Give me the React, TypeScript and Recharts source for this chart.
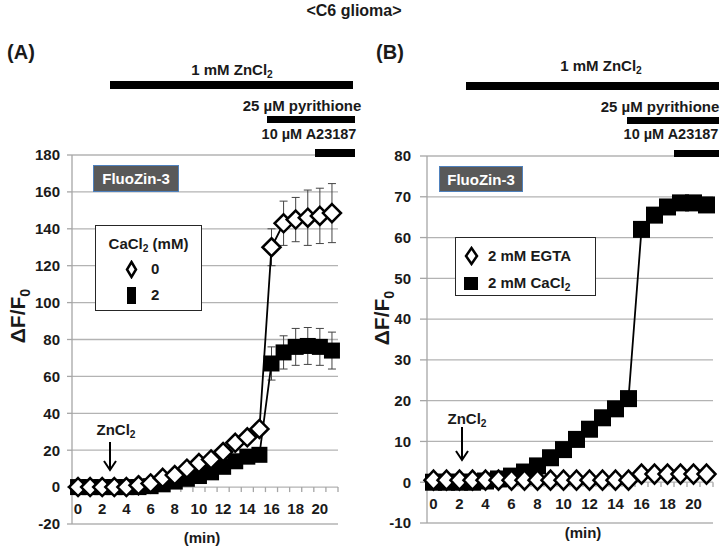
import React from 'react';
import {
  LineChart,
  Line,
  XAxis,
  YAxis,
  CartesianGrid,
  ErrorBar,
  ReferenceLine,
  Legend,
} from 'recharts';

// time points (min)
const minutes = [0, 1, 2, 3, 4, 5, 6, 7, 8, 9, 10, 11, 12, 13, 14, 15, 16, 17, 18, 19, 20, 21];
const minuteTicks = [0, 2, 4, 6, 8, 10, 12, 14, 16, 18, 20];

// panel A: CaCl2 0 mM / 2 mM
const aCa0 = [0, 0, 0, 0, 0, 1, 2, 5, 6.5, 10, 13, 15, 19, 24, 27, 31.5, 130, 143, 145, 146, 147, 148.5];
const aCa0Err = [0, 0, 0, 0, 0, 0, 0, 0, 0, 0, 0, 0, 0, 0, 0, 0, 10, 12, 12, 15, 15, 16];
const aCa2 = [0, 0, 0, 0, 0, 0, 0.5, 1.5, 3, 4.5, 6, 8, 11, 14, 16.5, 17.5, 67, 73, 76, 76.5, 76, 74];
const aCa2Err = [0, 0, 0, 0, 0, 0, 0, 0, 0, 0, 0, 0, 0, 0, 0, 0, 9, 9, 10, 10, 10, 10];
const aTicks = [-20, 0, 20, 40, 60, 80, 100, 120, 140, 160, 180];

// panel B: 2 mM EGTA / 2 mM CaCl2
const bEgta = [0.5, 0.5, 0.5, 0.5, 0.5, 0.5, 0.5, 0.5, 0.5, 0.5, 0.5, 0.5, 0.5, 0.5, 0.5, 0.5, 2, 2, 2, 2, 2, 2];
const bCaCl2 = [0, 0, 0, 0, 0.3, 0.8, 1.5, 2.5, 4, 6, 8, 10.5, 13, 15.8, 18, 20.5, 62, 65.5, 67.5, 68.5, 68.5, 68];
const bTicks = [-10, 0, 10, 20, 30, 40, 50, 60, 70, 80];

const dataA = minutes.map((t, i) => ({ t, ca0: aCa0[i], ca0Err: aCa0Err[i], ca2: aCa2[i], ca2Err: aCa2Err[i] }));
const dataB = minutes.map((t, i) => ({ t, egta: bEgta[i], cacl2: bCaCl2[i] }));
const boundaries = [...minutes.map(m => m - 0.5), minutes[minutes.length - 1] + 0.5];

const FONT = '"Liberation Sans", Arial, sans-serif';
const INK = '#1a1a1a';
const GRID = '#b3b3b3';
const FS = 15;

const Sub = ({ children }: { children: React.ReactNode }) => (
  <span style={{ fontSize: '0.68em', position: 'relative', top: '0.32em' }}>{children}</span>
);

const diamondDot = (w: number, h: number) => (p: any) => {
  const { cx, cy, index } = p;
  if (cx == null || cy == null) return <g key={`dd-${index}`} />;
  return (
    <polygon
      key={`dd-${index}`}
      points={`${cx},${cy - h / 2} ${cx + w / 2},${cy} ${cx},${cy + h / 2} ${cx - w / 2},${cy}`}
      fill="#fff"
      stroke="#000"
      strokeWidth={2.5}
    />
  );
};

const squareDot = (s: number) => (p: any) => {
  const { cx, cy, index } = p;
  if (cx == null || cy == null) return <g key={`sq-${index}`} />;
  return <rect key={`sq-${index}`} x={cx - s / 2} y={cy - s / 2} width={s} height={s} fill="#000" />;
};

const minuteTick = (shift: number) => (p: any) => (
  <text
    key={`xt-${p.payload.value}`}
    x={p.x}
    y={p.y + shift}
    textAnchor="middle"
    fill={INK}
    fontSize={FS}
    fontWeight={700}
    fontFamily={FONT}
  >
    {p.payload.value}
  </text>
);

const LegendMarker = ({ kind, w, h }: { kind: string; w: number; h: number }) => (
  <svg width={w + 4} height={h + 4} style={{ position: 'absolute', left: -(w + 4) / 2, top: -(h + 4) / 2 }}>
    {kind === 'diamond' ? (
      <polygon
        points={`${(w + 4) / 2},2 ${w + 2},${(h + 4) / 2} ${(w + 4) / 2},${h + 2} 2,${(h + 4) / 2}`}
        fill="#fff"
        stroke="#000"
        strokeWidth={2.5}
      />
    ) : (
      <rect x={2} y={2} width={w} height={h} fill="#000" />
    )}
  </svg>
);

const legendOrderA = ['ca0', 'ca2'];
const LegendA = ({ payload }: any) => {
  const items = legendOrderA.map(k => (payload || []).find((e: any) => e.dataKey === k)).filter(Boolean);
  return (
    <div style={{ position: 'relative', width: 107, height: 86, border: '1px solid #262626', background: '#fff', boxSizing: 'border-box', fontFamily: FONT, fontWeight: 700, fontSize: FS, color: INK }}>
      <div style={{ position: 'absolute', left: 0, right: 0, top: 9, textAlign: 'center', whiteSpace: 'nowrap' }}>
        CaCl<Sub>2</Sub> (mM)
      </div>
      {items.map((e: any, i: number) => (
        <div key={e.dataKey} style={{ position: 'absolute', left: 35, top: 43 + i * 26 }}>
          {e.dataKey === 'ca0' ? <LegendMarker kind="diamond" w={9} h={15} /> : <LegendMarker kind="square" w={9} h={17} />}
          <span style={{ position: 'absolute', left: 20, top: -9, lineHeight: '18px' }}>{e.value}</span>
        </div>
      ))}
    </div>
  );
};

const legendOrderB = ['egta', 'cacl2'];
const LegendB = ({ payload }: any) => {
  const items = legendOrderB.map(k => (payload || []).find((e: any) => e.dataKey === k)).filter(Boolean);
  return (
    <div style={{ position: 'relative', width: 141, height: 59, border: '1px solid #262626', background: '#fff', boxSizing: 'border-box', fontFamily: FONT, fontWeight: 700, fontSize: FS, color: INK }}>
      {items.map((e: any, i: number) => (
        <div key={e.dataKey} style={{ position: 'absolute', left: 15, top: 18 + i * 27 }}>
          {e.dataKey === 'egta' ? <LegendMarker kind="diamond" w={11} h={16} /> : <LegendMarker kind="square" w={14} h={13} />}
          <span style={{ position: 'absolute', left: 17, top: -9, lineHeight: '18px', whiteSpace: 'nowrap' }}>
            {e.dataKey === 'cacl2' ? <>2 mM CaCl<Sub>2</Sub></> : e.value}
          </span>
        </div>
      ))}
    </div>
  );
};

const Txt = ({ x, y, size = FS, children }: { x: number; y: number; size?: number; children: React.ReactNode }) => (
  <div
    style={{
      position: 'absolute',
      left: x,
      top: y,
      transform: 'translate(-50%, -50%)',
      whiteSpace: 'nowrap',
      fontSize: size,
      fontWeight: 700,
      color: INK,
      lineHeight: 1,
    }}
  >
    {children}
  </div>
);

const Bar = ({ x1, x2, y, h }: { x1: number; x2: number; y: number; h: number }) => (
  <div style={{ position: 'absolute', left: x1, top: y, width: x2 - x1, height: h, background: '#000' }} />
);

const Badge = ({ x, y, w, h }: { x: number; y: number; w: number; h: number }) => (
  <div
    style={{
      position: 'absolute', left: x, top: y, width: w, height: h, background: '#595959',
      border: '1px solid #4f81bd', boxSizing: 'border-box', color: '#fff', fontSize: FS,
      fontWeight: 700, display: 'flex', alignItems: 'center', justifyContent: 'center',
    }}
  >
    FluoZin-3
  </div>
);

const YTitle = ({ x, y }: { x: number; y: number }) => (
  <div
    style={{
      position: 'absolute', left: x, top: y, transform: 'translate(-50%, -50%) rotate(-90deg)',
      whiteSpace: 'nowrap', fontSize: 21, fontWeight: 700, color: INK, lineHeight: 1,
    }}
  >
    ΔF/F<Sub>0</Sub>
  </div>
);

export default function App() {
  return (
    <div style={{ position: 'absolute', left: 0, top: 0, width: 724, height: 547, background: '#fff', fontFamily: FONT, overflow: 'hidden' }}>
      {/* panel A */}
      <div style={{ position: 'absolute', left: 0, top: 0 }}>
        <LineChart width={360} height={547} data={dataA} margin={{ top: 155, right: 22, bottom: 0, left: 0 }}>
          <CartesianGrid vertical={false} stroke={GRID} strokeWidth={1.3} />
          <XAxis
            dataKey="t"
            type="number"
            domain={[-0.5, 21.5]}
            ticks={minuteTicks}
            interval={0}
            axisLine={false}
            tickLine={false}
            tickSize={0}
            tickMargin={0}
            height={23}
            tick={minuteTick(-10)}
          />
          <YAxis
            type="number"
            domain={[-20, 180]}
            ticks={aTicks}
            interval={0}
            width={72}
            axisLine={{ stroke: '#a6a6a6', strokeWidth: 1.3 }}
            tickLine={{ stroke: '#a6a6a6', strokeWidth: 1.3 }}
            tickSize={5}
            tickMargin={7}
            tick={{ fill: INK, fontSize: FS, fontWeight: 700, fontFamily: FONT }}
          />
          {boundaries.map(b => (
            <ReferenceLine key={`ta-${b}`} segment={[{ x: b, y: 0 }, { x: b, y: -2.7 }]} stroke="#a6a6a6" strokeWidth={1.3} />
          ))}
          <Legend layout="vertical" align="center" verticalAlign="middle" content={<LegendA />} wrapperStyle={{ left: 95, top: 225, width: 'auto' }} />
          <Line dataKey="ca2" name="2" stroke="#000" strokeWidth={1.8} dot={squareDot(16)} activeDot={false} isAnimationActive={false}>
            <ErrorBar dataKey="ca2Err" width={4} stroke="#444" strokeWidth={1} direction="y" />
          </Line>
          <Line dataKey="ca0" name="0" stroke="#000" strokeWidth={1.8} dot={diamondDot(18, 18)} activeDot={false} isAnimationActive={false}>
            <ErrorBar dataKey="ca0Err" width={4} stroke="#444" strokeWidth={1} direction="y" />
          </Line>
        </LineChart>
      </div>

      {/* panel B */}
      <div style={{ position: 'absolute', left: 360, top: 0 }}>
        <LineChart width={364} height={547} data={dataB} margin={{ top: 156, right: 11, bottom: 0, left: 0 }}>
          <CartesianGrid vertical={false} stroke={GRID} strokeWidth={1.3} />
          <XAxis
            dataKey="t"
            type="number"
            domain={[-0.5, 21.5]}
            ticks={minuteTicks}
            interval={0}
            axisLine={false}
            tickLine={false}
            tickSize={0}
            tickMargin={0}
            height={24}
            tick={minuteTick(-14)}
          />
          <YAxis
            type="number"
            domain={[-10, 80]}
            ticks={bTicks}
            interval={0}
            width={67}
            axisLine={{ stroke: '#a6a6a6', strokeWidth: 1.3 }}
            tickLine={{ stroke: '#a6a6a6', strokeWidth: 1.3 }}
            tickSize={7}
            tickMargin={9}
            tick={{ fill: INK, fontSize: FS, fontWeight: 700, fontFamily: FONT }}
          />
          {boundaries.map(b => (
            <ReferenceLine key={`tb-${b}`} segment={[{ x: b, y: 0 }, { x: b, y: -1.2 }]} stroke="#a6a6a6" strokeWidth={1.3} />
          ))}
          <Legend layout="vertical" align="center" verticalAlign="middle" content={<LegendB />} wrapperStyle={{ left: 95, top: 237, width: 'auto' }} />
          <Line dataKey="cacl2" name="2 mM CaCl2" stroke="#000" strokeWidth={1.8} dot={squareDot(17)} activeDot={false} isAnimationActive={false} />
          <Line dataKey="egta" name="2 mM EGTA" stroke="#000" strokeWidth={1.8} dot={diamondDot(18, 19)} activeDot={false} isAnimationActive={false} />
        </LineChart>
      </div>

      {/* titles and treatment bars */}
      <Txt x={354} y={11} size={16}>&lt;C6 glioma&gt;</Txt>
      <Txt x={21} y={52} size={20}>(A)</Txt>
      <Txt x={390} y={52} size={20}>(B)</Txt>

      <Txt x={232} y={70}>1 mM ZnCl<Sub>2</Sub></Txt>
      <Bar x1={110} x2={353} y={81} h={8} />
      <Txt x={302} y={105}>25 µM pyrithione</Txt>
      <Bar x1={267} x2={355} y={116} h={7} />
      <Txt x={309} y={134} size={14.5}>10 µM A23187</Txt>
      <Bar x1={315} x2={355} y={149} h={8} />

      <Txt x={601} y={66}>1 mM ZnCl<Sub>2</Sub></Txt>
      <Bar x1={466} x2={719} y={82} h={8} />
      <Txt x={660} y={106}>25 µM pyrithione</Txt>
      <Bar x1={627} x2={719} y={117} h={7} />
      <Txt x={671} y={134} size={14.5}>10 µM A23187</Txt>
      <Bar x1={674} x2={719} y={150} h={7} />

      <Badge x={93} y={165} w={86} h={27} />
      <Badge x={439} y={166} w={84} h={26} />

      <YTitle x={17} y={316} />
      <YTitle x={381} y={318} />

      <Txt x={202} y={537}>(min)</Txt>
      <Txt x={583} y={532}>(min)</Txt>

      <Txt x={116} y={430}>ZnCl<Sub>2</Sub></Txt>
      <Txt x={467} y={419}>ZnCl<Sub>2</Sub></Txt>
      <svg width={724} height={547} style={{ position: 'absolute', left: 0, top: 0, pointerEvents: 'none' }}>
        <line x1={110} y1={442} x2={110} y2={469} stroke="#000" strokeWidth={2} />
        <polyline points="104,461 110,470 116,461" fill="none" stroke="#000" strokeWidth={2} />
        <line x1={462} y1={427} x2={462} y2={459} stroke="#000" strokeWidth={2} />
        <polyline points="456,451 462,460 468,451" fill="none" stroke="#000" strokeWidth={2} />
      </svg>
    </div>
  );
}
